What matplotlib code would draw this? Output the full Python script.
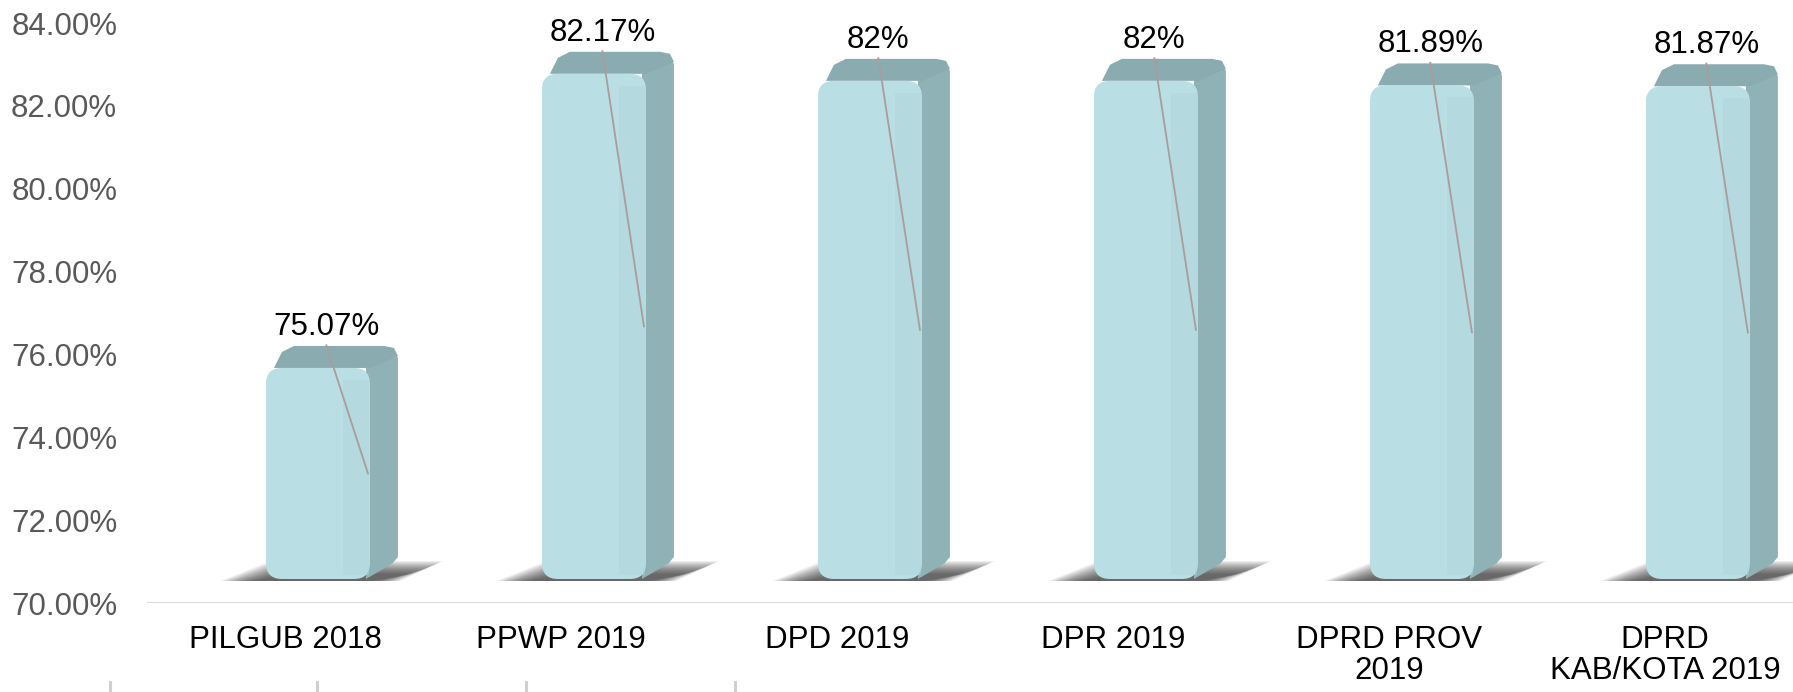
import numpy as np
import matplotlib
matplotlib.use("Agg")
import matplotlib.pyplot as plt
from matplotlib.patches import FancyBboxPatch, Polygon
from matplotlib.lines import Line2D

plt.rcParams["font.family"] = ["Liberation Sans", "DejaVu Sans"]

# datos del grafico
kategori = ["PILGUB 2018", "PPWP 2019", "DPD 2019", "DPR 2019",
            "DPRD PROV\n2019", "DPRD\nKAB/KOTA 2019"]
partisipasi = [75.07, 82.17, 82.0, 82.0, 81.89, 81.87]
label_nilai = ["75.07%", "82.17%", "82%", "82%", "81.89%", "81.87%"]
y_ticks = [70, 72, 74, 76, 78, 80, 82, 84]

W, H = 1793, 692
fig = plt.figure(figsize=(W / 100, H / 100), dpi=100)
ax = fig.add_axes([147 / W, 89 / H, 1 - 147 / W, (603 - 23) / H])
ax.set_xlim(-0.5, 5.464)
ax.set_ylim(70, 84)

# conversion pixel -> datos
px_x = (W - 147) / (5.464 + 0.5)
px_y = (603 - 23) / 14.0
def dx(p):
    return p / px_x
def dy(p):
    return p / px_y

c_front = "#b9dee3"
c_side = "#8fb2b6"
c_top = "#8aabaf"

for i, v in enumerate(partisipasi):
    xl = i - 0.069
    w = dx(104)
    xr = xl + w
    y0 = 70 + dy(24)
    yt = v + dy(25)
    ddx, ddy = dx(28), dy(22)

    # sombra en el piso (degradado)
    n = 16
    for k in range(n):
        s = 1 - k / n
        sh = Polygon([(xl - dx(10 + 35 * s), y0 - dy(2)),
                      (xr + dx(30 * s), y0 - dy(2)),
                      (xr + ddx + dx(15 + 30 * s), y0 + dy(4 + 14 * s)),
                      (xl + dx(25 - 20 * s), y0 + dy(4 + 14 * s))],
                     closed=True, facecolor="#2a2a2a", edgecolor="none",
                     alpha=0.07, zorder=1)
        ax.add_patch(sh)

    side = Polygon([(xr - dx(4), y0), (xr + ddx * 0.8, y0 + ddy * 0.7),
                    (xr + ddx, y0 + ddy),
                    (xr + ddx, yt + ddy - dy(12)),
                    (xr + ddx - dx(6), yt + ddy - dy(2)),
                    (xr - dx(4), yt)],
                   closed=True, facecolor=c_side, edgecolor="none", zorder=2)
    top = Polygon([(xl + dx(8), yt), (xr, yt),
                   (xr + ddx, yt + ddy - dy(10)),
                   (xr + ddx - dx(4), yt + ddy - dy(2)),
                   (xr + ddx - dx(14), yt + ddy),
                   (xl + ddx, yt + ddy),
                   (xl + dx(16), yt + ddy - dy(6))],
                  closed=True, facecolor=c_top, edgecolor="none", zorder=2)
    ax.add_patch(side)
    ax.add_patch(top)

    front = FancyBboxPatch((xl, y0), w, yt - y0,
                           boxstyle="round,pad=0,rounding_size=%f" % dx(16),
                           mutation_aspect=px_x / px_y,
                           facecolor=c_front, edgecolor="none", zorder=3)
    ax.add_patch(front)
    # franja algo mas oscura hacia la derecha del frente
    ax.add_patch(Polygon([(xl + w * 0.74, y0 + dy(4)), (xr - dx(1), y0 + dy(4)),
                          (xr - dx(1), yt - dy(12)), (xl + w * 0.74, yt - dy(12))],
                         closed=True, facecolor="#aed3d8", edgecolor="none",
                         alpha=0.45, zorder=3))

    # etiqueta y linea guia
    lx = i + 0.15
    ly = v + 1.6
    ax.text(lx, ly, label_nilai[i], ha="center", va="center",
            fontsize=22.5, color="black", zorder=5)
    ax.plot([lx, xr - dx(2)], [ly - 0.45, (y0 + yt) / 2],
            color="#ab9c9c", lw=1.3, zorder=4)

ax.axhline(70, color="#d9d9d9", lw=2.2, zorder=0)
for s in ax.spines.values():
    s.set_visible(False)

ax.set_xticks(range(len(kategori)))
ax.set_xticklabels(kategori, fontsize=22.5, color="black", linespacing=1.05)
ax.set_yticks(y_ticks)
ax.set_yticklabels(["%.2f%%" % t for t in y_ticks], fontsize=22.5,
                   color="#595959")
ax.tick_params(axis="both", length=0)
ax.tick_params(axis="x", pad=16)
ax.tick_params(axis="y", pad=21.5)

# marcas grises al pie
for xp in [110, 317, 526, 735]:
    fig.add_artist(Line2D([xp / W, xp / W], [0, 10 / H],
                          transform=fig.transFigure, color="#cfcfcf", lw=2.2))

fig.savefig("out.png", dpi=100)
